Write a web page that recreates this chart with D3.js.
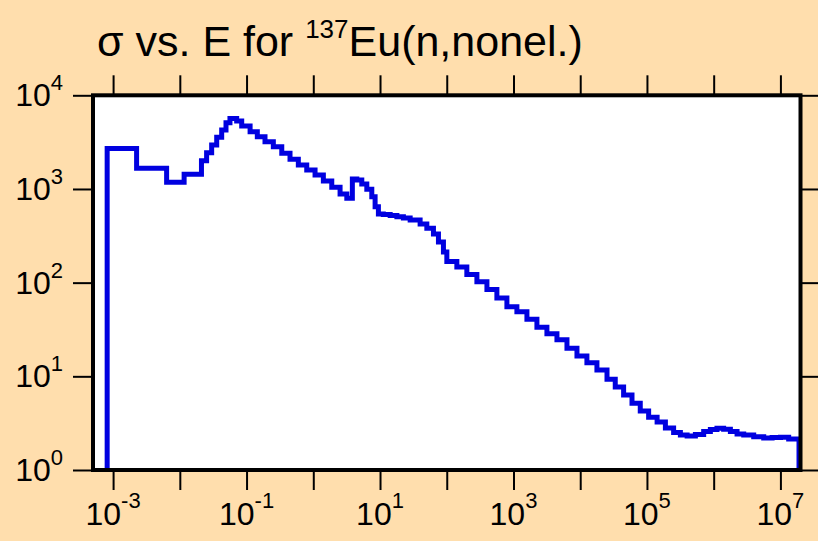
<!DOCTYPE html>
<html>
<head>
<meta charset="utf-8">
<script src="https://cdn.jsdelivr.net/npm/d3@7"></script>
<style>
  html, body { margin: 0; padding: 0; background: #FFDEAD; }
  svg { display: block; }
</style>
</head>
<body>
<svg id="chart" width="818" height="541"></svg>
<script>
// Group lower boundaries (eV) and cross section per group (b)
const energy = [
  8.15e-4, 2.25e-3, 6.34e-3, 1.16e-2, 2.11e-2, 2.52e-2, 3.00e-2, 3.57e-2, 4.24e-2, 4.92e-2,
  5.64e-2, 7.11e-2, 8.46e-2, 0.113, 0.145, 0.189, 0.252, 0.337, 0.448, 0.597,
  0.798, 1.063, 1.416, 1.892, 2.52, 3.18, 3.85, 4.49, 5.33, 6.34,
  7.53, 8.44, 9.46, 11.2, 14.2, 17.9, 22.4, 28.3, 39.9, 50.3,
  63.2, 75.1, 89.2, 100.3, 141.7, 200, 283, 400, 564, 797,
  1125, 1590, 2245, 3170, 4480, 6330, 8940, 1.26e4, 1.78e4, 2.52e4,
  3.35e4, 4.47e4, 5.97e4, 7.94e4, 1.06e5, 1.42e5, 1.89e5, 2.51e5, 3.17e5, 4.0e5,
  5.32e5, 7.08e5, 8.92e5, 1.12e6, 1.41e6, 1.78e6, 2.24e6, 2.82e6, 3.98e6, 5.62e6,
  7.51e6, 1.0e7, 1.33e7
];
const sigma = [
  2700, 1660, 1180, 1435, 2000, 2440, 2950, 3560, 4260, 5100,
  5650, 5320, 4700, 4090, 3610, 3200, 2830, 2400, 2075, 1800,
  1595, 1410, 1217, 1043, 884, 796, 1280, 1248, 1131, 993,
  828, 647, 541, 535, 520, 506, 490, 467, 423, 381,
  331, 272, 213, 168, 147, 122, 102, 84.6, 68.7, 55.4,
  49.0, 40.7, 33.4, 28.4, 24.5, 19.9, 16.5, 14.0, 11.7, 9.3,
  7.7, 6.33, 5.16, 4.27, 3.66, 3.25, 2.80, 2.51, 2.37, 2.31,
  2.40, 2.57, 2.70, 2.79, 2.72, 2.57, 2.43, 2.37, 2.27, 2.19,
  2.22, 2.24, 2.14
];
const energyEnd = 1.9e7;

const xTickExponents = [-3, -2, -1, 0, 1, 2, 3, 4, 5, 6, 7];
const xLabelExponents = [-3, -1, 1, 3, 5, 7];
const yTickExponents = [0, 1, 2, 3, 4];

const titleMain = "σ vs. E for ";
const titleSup = "137";
const titleRest = "Eu(n,nonel.)";

const plot = { left: 93, right: 800.5, top: 95.3, bottom: 470 };

const svg = d3.select("#chart");

const x = d3.scaleLog().domain([5e-4, 2e7]).range([plot.left, plot.right]);
const y = d3.scaleLog().domain([1, 1e4]).range([plot.bottom, plot.top]);

// plot area
svg.append("rect")
  .attr("x", plot.left).attr("y", plot.top)
  .attr("width", plot.right - plot.left).attr("height", plot.bottom - plot.top)
  .attr("fill", "#ffffff")
  .attr("stroke", "#a8a8a8").attr("stroke-width", 1);

// step curve, dropping to the axis floor at both ends
const yFloor = y.domain()[0];
const pts = [[energy[0], yFloor]]
  .concat(energy.map((e, i) => [e, sigma[i]]))
  .concat([[energyEnd, sigma[sigma.length - 1]], [energyEnd, yFloor]]);

const line = d3.line()
  .x(d => x(d[0]))
  .y(d => y(d[1]))
  .curve(d3.curveStepAfter);

svg.append("path")
  .attr("d", line(pts))
  .attr("fill", "none")
  .attr("stroke", "#0000E0")
  .attr("stroke-width", 5)
  .attr("stroke-linejoin", "miter");

// tick marks on all four sides, pointing outward
const xTicks = xTickExponents.map(e => Math.pow(10, e));
const yTicks = yTickExponents.map(e => Math.pow(10, e));
const tickLen = 20;

function styleAxis(g) {
  g.select(".domain").remove();
  g.selectAll(".tick line").attr("stroke", "#000").attr("stroke-width", 2);
  g.selectAll(".tick text").remove();
}

svg.append("g").attr("transform", `translate(0,${plot.bottom})`)
  .call(d3.axisBottom(x).tickValues(xTicks).tickSize(tickLen).tickSizeOuter(0))
  .call(styleAxis);
svg.append("g").attr("transform", `translate(0,${plot.top})`)
  .call(d3.axisTop(x).tickValues(xTicks).tickSize(tickLen).tickSizeOuter(0))
  .call(styleAxis);
svg.append("g").attr("transform", `translate(${plot.left},0)`)
  .call(d3.axisLeft(y).tickValues(yTicks).tickSize(tickLen).tickSizeOuter(0))
  .call(styleAxis);
svg.append("g").attr("transform", `translate(${plot.right},0)`)
  .call(d3.axisRight(y).tickValues(yTicks).tickSize(tickLen).tickSizeOuter(0))
  .call(styleAxis);

// frame
svg.append("rect")
  .attr("x", plot.left).attr("y", plot.top)
  .attr("width", plot.right - plot.left).attr("height", plot.bottom - plot.top)
  .attr("fill", "none")
  .attr("stroke", "#000").attr("stroke-width", 4);

const font = "'Liberation Sans', Arial, Helvetica, sans-serif";

function powerLabel(g, exp, px, py, anchor, size, supSize, rise) {
  const t = g.append("text")
    .attr("x", px).attr("y", py)
    .attr("text-anchor", anchor)
    .attr("font-family", font)
    .attr("font-size", size)
    .attr("fill", "#000");
  t.append("tspan").text("10");
  t.append("tspan").attr("font-size", supSize).attr("dy", -rise).text(String(exp));
}

const labels = svg.append("g");
xLabelExponents.forEach(e =>
  powerLabel(labels, e, x(Math.pow(10, e)), 525, "middle", 32, 22, 17));
yTickExponents.forEach(e =>
  powerLabel(labels, e, 63, y(Math.pow(10, e)) + 11, "end", 32, 22, 16));

// title
const title = svg.append("text")
  .attr("x", 97).attr("y", 56)
  .attr("font-family", font)
  .attr("font-size", 43)
  .attr("fill", "#000");
title.append("tspan").text(titleMain);
title.append("tspan").attr("font-size", 26).attr("dy", -18).text(titleSup);
title.append("tspan").attr("dy", 18).text(titleRest);
</script>
</body>
</html>
